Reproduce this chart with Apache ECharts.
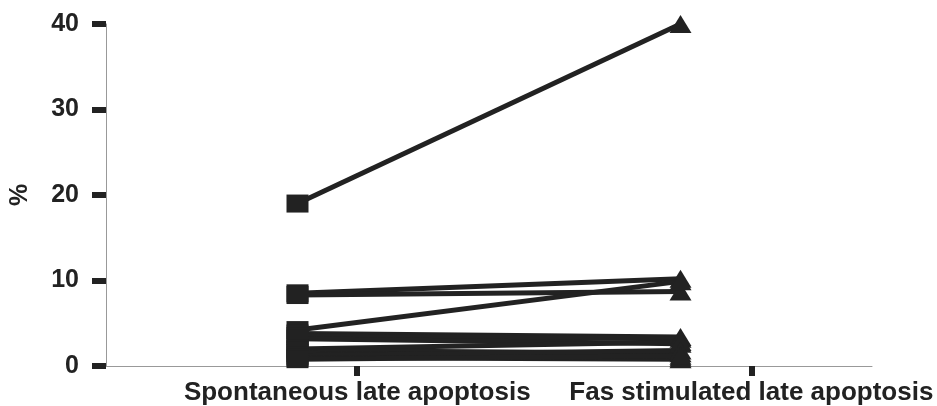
<!DOCTYPE html>
<html>
<head>
<meta charset="utf-8">
<script src="https://cdn.jsdelivr.net/npm/echarts@6/dist/echarts.min.js"></script>
<style>
  html, body { margin: 0; padding: 0; background: #fff; }
  #chart { width: 937px; height: 406px; }
</style>
</head>
<body>
<div id="chart"></div>
<script>
// categories and paired values (one line per subject)
var categories = ['Spontaneous late apoptosis', 'Fas stimulated late apoptosis'];
var spontaneous   = [19.0, 8.5, 8.3, 4.2, 3.8, 3.5, 3.2, 2.0, 1.8, 1.5, 1.2, 1.0, 0.8];
var fasStimulated = [40.0, 10.2, 8.7, 9.9, 3.4, 3.2, 2.6, 2.8, 1.5, 1.0, 1.8, 0.8, 1.2];
var yTicks = [0, 10, 20, 30, 40];
// where the original figure puts the category ticks (in category units, 0..2)
var labelTicks = [0.656, 1.685];

var ink = '#222';
var series = [];
for (var i = 0; i < spontaneous.length; i++) {
  series.push({
    type: 'line',
    xAxisIndex: 0,
    data: [
      { value: spontaneous[i], symbol: 'rect' },
      { value: fasStimulated[i], symbol: 'triangle' }
    ],
    symbolSize: [22, 18],
    lineStyle: { color: ink, width: 5 },
    itemStyle: { color: ink },
    silent: true,
    animation: false
  });
}

var myChart = echarts.init(document.getElementById('chart'));
myChart.setOption({
  animation: false,
  grid: { left: 104, right: 65, top: 24, bottom: 38, containLabel: false },
  xAxis: [
    {
      type: 'category',
      data: categories,
      boundaryGap: true,
      axisLine: { show: true, lineStyle: { color: '#999', width: 1 } },
      axisTick: { show: false },
      axisLabel: { show: false },
      splitLine: { show: false }
    },
    {
      type: 'value',
      position: 'bottom',
      min: 0,
      max: 2,
      axisLine: { show: false },
      splitLine: { show: false },
      axisTick: {
        show: true,
        customValues: labelTicks,
        length: 10,
        lineStyle: { color: ink, width: 6 }
      },
      axisLabel: {
        show: true,
        customValues: labelTicks,
        margin: 14,
        fontFamily: 'Liberation Sans, Arial, sans-serif',
        fontWeight: 'bold',
        fontSize: 26,
        color: ink,
        formatter: function (v) {
          var k = labelTicks.indexOf(v);
          return k >= 0 ? categories[k] : '';
        }
      }
    }
  ],
  yAxis: {
    type: 'value',
    min: yTicks[0],
    max: yTicks[yTicks.length - 1],
    interval: 10,
    name: '%',
    nameLocation: 'middle',
    nameGap: 73,
    nameTextStyle: {
      fontFamily: 'Liberation Sans, Arial, sans-serif',
      fontWeight: 'bold',
      fontSize: 25,
      color: ink
    },
    axisLine: { show: true, lineStyle: { color: '#999', width: 1 } },
    axisTick: { show: true, length: 14, lineStyle: { color: ink, width: 6 } },
    axisLabel: {
      margin: 27,
      fontFamily: 'Liberation Sans, Arial, sans-serif',
      fontWeight: 'bold',
      fontSize: 25,
      color: ink
    },
    splitLine: { show: false }
  },
  series: series
});
</script>
</body>
</html>
